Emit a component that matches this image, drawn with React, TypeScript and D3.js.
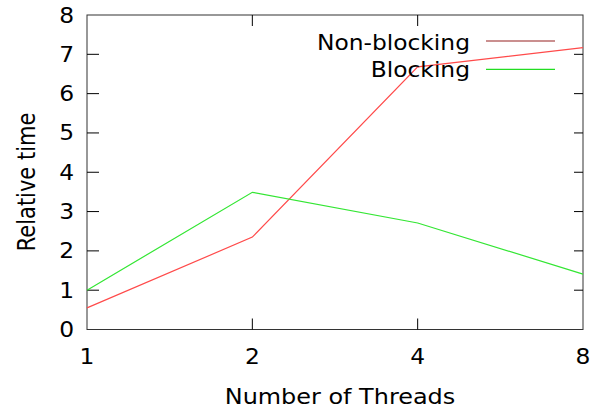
import React from "react";
import * as d3 from "d3";

const threads = ["1", "2", "4", "8"];
const nonBlocking = [0.55, 2.35, 6.68, 7.17];
const blocking = [1.0, 3.49, 2.71, 1.41];
const yTicks = [0, 1, 2, 3, 4, 5, 6, 7, 8];
const seriesNames = ["Non-blocking", "Blocking"];

const W = 591, H = 410;
const L = 87, R = 583, T = 15, B = 329.5;
const SX = 1.14;
const FONT = "'DejaVu Sans', Verdana, sans-serif";

export default function App() {
  const x = d3.scalePoint<string>().domain(threads).range([L, R]);
  const y = d3.scaleLinear().domain([0, 8]).range([B, T]);
  const line = d3
    .line<number>()
    .x((_, i) => x(threads[i]) as number)
    .y((d) => y(d));

  const txt = (
    s: string,
    tx: number,
    ty: number,
    anchor: "start" | "middle" | "end",
    size = 20.5,
    extra = ""
  ) => (
    <text
      transform={`translate(${tx},${ty}) scale(${SX},1)${extra}`}
      textAnchor={anchor}
      fontFamily={FONT}
      fontSize={size}
      fill="#000"
    >
      {s}
    </text>
  );

  const series = [
    { name: seriesNames[0], data: nonBlocking, color: "#ff4a4a", legend: "#b86a6a" },
    { name: seriesNames[1], data: blocking, color: "#33e633", legend: "#22dd22" },
  ];

  return (
    <svg
      width={W}
      height={H}
      style={{ position: "absolute", left: 0, top: 0, background: "#fff" }}
    >
      <rect x={0} y={0} width={W} height={H} fill="#fff" />
      {/* frame */}
      <rect x={L} y={T} width={R - L} height={B - T} fill="none" stroke="#333" strokeWidth={1} />
      {/* y ticks */}
      {yTicks.map((t) => (
        <g key={"yt" + t}>
          {t > 0 && t < 8 && (
            <>
              <line x1={L} x2={L + 12} y1={y(t)} y2={y(t)} stroke="#000" />
              <line x1={R - 9} x2={R} y1={y(t)} y2={y(t)} stroke="#000" />
            </>
          )}
          {txt(String(t), 74, y(t) + 7.5, "end")}
        </g>
      ))}
      {/* x ticks */}
      {threads.map((t, i) => (
        <g key={"xt" + t}>
          {i > 0 && i < threads.length - 1 && (
            <>
              <line x1={x(t)} x2={x(t)} y1={B} y2={B - 11} stroke="#000" />
              <line x1={x(t)} x2={x(t)} y1={T} y2={T + 11} stroke="#000" />
            </>
          )}
          {txt(t, x(t) as number, 364, "middle")}
        </g>
      ))}
      {/* series */}
      {series.map((s) => (
        <path key={s.name} d={line(s.data) as string} fill="none" stroke={s.color} strokeWidth={1.2} />
      ))}
      {/* legend */}
      {series.map((s, i) => (
        <g key={"lg" + s.name}>
          {txt(s.name, 470, 49.5 + i * 27.5, "end")}
          <line x1={486} x2={555} y1={41 + i * 28.3} y2={41 + i * 28.3} stroke={s.legend} strokeWidth={1.3} />
        </g>
      ))}
      {/* axis titles */}
      {txt("Number of Threads", 340, 404, "middle", 21)}
      {txt("Relative time", 34.5, 182, "middle", 21, " rotate(-90)")}
    </svg>
  );
}
